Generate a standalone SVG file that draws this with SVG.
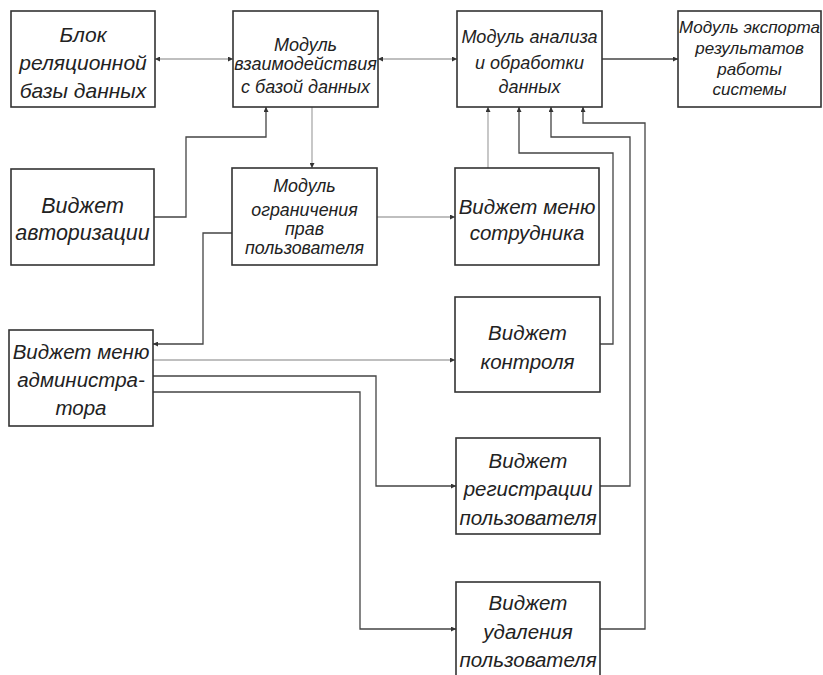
<svg xmlns="http://www.w3.org/2000/svg" width="823" height="675" viewBox="0 0 823 675">
<style>
.box{fill:#fff;stroke:#333;stroke-width:1.6}
.t{font-family:"Liberation Sans",Arial,sans-serif;font-style:italic;fill:#222;text-anchor:middle}
.c{fill:none;stroke-width:1.3}
.d{stroke:#444}
.l{stroke:#aaa}
</style>
<defs>
<marker id="a" markerWidth="5" markerHeight="5" refX="5" refY="2.5" orient="auto-start-reverse" markerUnits="userSpaceOnUse">
<path d="M0,0 L5,2.5 L0,5 z" fill="#333"/>
</marker>
</defs>
<rect width="823" height="675" fill="#fff"/>
<g id="connectors">
<path class="c l" d="M155,59 H233" marker-start="url(#a)" marker-end="url(#a)"/>
<path class="c l" d="M378,59 H457" marker-start="url(#a)" marker-end="url(#a)"/>
<path class="c d" d="M602,59 H678" marker-end="url(#a)"/>
<path class="c l" d="M312,107 V168" marker-end="url(#a)"/>
<path class="c d" d="M154,217 H186 V137 H266 V107" marker-end="url(#a)"/>
<path class="c l" d="M377,217 H455" marker-end="url(#a)"/>
<path class="c d" d="M232,233 H203 V344 H153" marker-end="url(#a)"/>
<path class="c l" d="M153,360 H455" marker-end="url(#a)"/>
<path class="c d" d="M153,376 H376 V486 H456" marker-end="url(#a)"/>
<path class="c d" d="M153,392 H360 V629 H456" marker-end="url(#a)"/>
<path class="c l" d="M488,168 V107" marker-end="url(#a)"/>
<path class="c d" d="M600,344 H613 V153 H519 V107" marker-end="url(#a)"/>
<path class="c d" d="M600,486 H630 V137 H551 V107" marker-end="url(#a)"/>
<path class="c d" d="M600,629 H645 V123 H583 V107" marker-end="url(#a)"/>
</g>
<g id="n1"><rect class="box" x="11" y="11" width="144" height="96"/>
<text class="t" font-size="21"><tspan x="83" y="42">Блок</tspan><tspan x="83" y="70">реляционной</tspan><tspan x="83" y="98">базы данных</tspan></text></g>
<g id="n2"><rect class="box" x="233" y="11" width="145" height="96"/>
<text class="t" font-size="18"><tspan x="305.5" y="51">Модуль</tspan><tspan x="305.5" y="70">взаимодействия</tspan><tspan x="305.5" y="93">с базой данных</tspan></text></g>
<g id="n3"><rect class="box" x="457" y="11" width="145" height="96"/>
<text class="t" font-size="18"><tspan x="529.5" y="43">Модуль анализа</tspan><tspan x="529.5" y="69">и обработки</tspan><tspan x="529.5" y="93">данных</tspan></text></g>
<g id="n4"><rect class="box" x="678" y="11" width="143" height="96"/>
<text class="t" font-size="17"><tspan x="749.5" y="33">Модуль экспорта</tspan><tspan x="749.5" y="54">результатов</tspan><tspan x="749.5" y="75">работы</tspan><tspan x="749.5" y="95">системы</tspan></text></g>
<g id="n5"><rect class="box" x="11" y="169" width="143" height="96"/>
<text class="t" font-size="21.5"><tspan x="82.5" y="213">Виджет</tspan><tspan x="82.5" y="240">авторизации</tspan></text></g>
<g id="n6"><rect class="box" x="232" y="168" width="145" height="97"/>
<text class="t" font-size="17.8"><tspan x="304.5" y="192">Модуль</tspan><tspan x="304.5" y="216">ограничения</tspan><tspan x="304.5" y="235">прав</tspan><tspan x="304.5" y="254">пользователя</tspan></text></g>
<g id="n7"><rect class="box" x="455" y="168" width="144" height="97"/>
<text class="t" font-size="20.5"><tspan x="527" y="214">Виджет меню</tspan><tspan x="527" y="240">сотрудника</tspan></text></g>
<g id="n8"><rect class="box" x="9" y="330" width="144" height="96"/>
<text class="t" font-size="20.5"><tspan x="81" y="359">Виджет меню</tspan><tspan x="81" y="387">администра-</tspan><tspan x="81" y="415">тора</tspan></text></g>
<g id="n9"><rect class="box" x="455" y="297" width="145" height="95"/>
<text class="t" font-size="20.5"><tspan x="527.5" y="340">Виджет</tspan><tspan x="527.5" y="369">контроля</tspan></text></g>
<g id="n10"><rect class="box" x="456" y="438" width="144" height="96"/>
<text class="t" font-size="20.5"><tspan x="528" y="468">Виджет</tspan><tspan x="528" y="496">регистрации</tspan><tspan x="528" y="525">пользователя</tspan></text></g>
<g id="n11"><rect class="box" x="456" y="582" width="144" height="100"/>
<text class="t" font-size="20.5"><tspan x="528" y="610">Виджет</tspan><tspan x="528" y="639">удаления</tspan><tspan x="528" y="667">пользователя</tspan></text></g>
</svg>
